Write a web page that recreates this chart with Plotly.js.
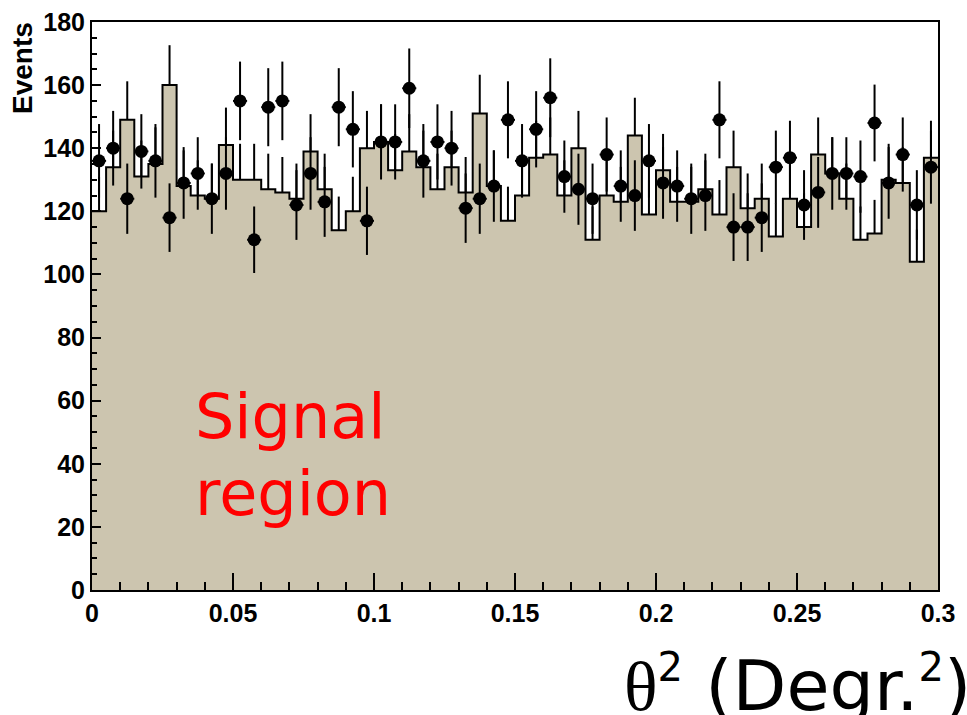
<!DOCTYPE html>
<html><head><meta charset="utf-8">
<script src="https://cdn.plot.ly/plotly-3.0.1.min.js"></script>
<style>html,body{margin:0;padding:0;background:#fff}#chart{width:967px;height:715px}</style>
</head><body><div id="chart"></div>
<script>
// Histogram binning (theta^2, degrees^2)
const binStart = 0;
const binWidth = 0.005;

// Filled histogram (expected / background) counts per bin
const histCounts = [120,134,149,131,135,160,128,125,124,141,
                    130,130,127,126,124,139,127,114,120,140,
                    142,133,139,134,127,134,126,151,128,117,
                    125,137,138,125,140,111,125,123,144,119,
                    133,123,123,127,119,134,121,124,112,124,
                    115,138,132,124,111,113,130,129,104,137];

// Measured events (black points) per bin
const dataCounts = [136,140,124,139,136,118,129,132,124,132,
                    155,111,153,155,122,132,123,153,146,117,
                    142,142,159,136,142,140,121,124,128,149,
                    136,146,156,131,127,124,138,128,125,136,
                    129,128,124,125,149,115,115,118,134,137,
                    122,126,132,132,131,148,129,138,122,134];

const xTickVals = [0,0.05,0.1,0.15,0.2,0.25,0.3];
const xTickText = ['0','0.05','0.1','0.15','0.2','0.25','0.3'];
const yTickVals = [0,20,40,60,80,100,120,140,160,180];
const yTickText = ['0','20','40','60','80','100','120','140','160','180'];

const nBins = histCounts.length;
const centers = histCounts.map((_, i) => binStart + (i + 0.5) * binWidth);
const edges = histCounts.map((_, i) => binStart + i * binWidth).concat([binStart + nBins * binWidth]);
const stepY = histCounts.concat([histCounts[nBins - 1]]);

const tan = 'rgb(204,197,175)';
const tickFont = {family: 'Liberation Sans, Arial, sans-serif', size: 25, color: '#000', weight: 'bold'};

const traces = [
  { // histogram error bars (lower part hidden by the fill)
    type: 'scatter', mode: 'markers', x: centers, y: histCounts,
    marker: {color: 'rgba(0,0,0,0)', size: 1},
    error_y: {type: 'sqrt', visible: true, color: '#000', thickness: 2, width: 0},
    hoverinfo: 'skip', showlegend: false
  },
  { // filled histogram
    type: 'scatter', mode: 'lines', x: edges, y: stepY,
    line: {shape: 'hv', color: '#000', width: 2},
    fill: 'tozeroy', fillcolor: tan,
    hoverinfo: 'skip', showlegend: false
  },
  { // data points
    type: 'scatter', mode: 'markers', x: centers, y: dataCounts,
    marker: {color: '#000', size: 13},
    error_y: {type: 'sqrt', visible: true, color: '#000', thickness: 2, width: 0},
    error_x: {type: 'constant', value: binWidth / 2, visible: true, color: '#000', thickness: 2, width: 0},
    showlegend: false
  }
];

const layout = {
  width: 967, height: 715,
  margin: {l: 92, r: 29, t: 22, b: 125},
  paper_bgcolor: '#fff', plot_bgcolor: '#fff',
  showlegend: false,
  xaxis: {
    range: [0, 0.3], tickmode: 'array', tickvals: xTickVals, ticktext: xTickText,
    ticks: 'inside', ticklen: 17, tickwidth: 2, tickcolor: '#000',
    minor: {dtick: 0.01, tick0: 0, ticks: 'inside', ticklen: 8, tickwidth: 2, tickcolor: '#000', showgrid: false},
    showgrid: false, zeroline: false, showline: true, linecolor: '#000', linewidth: 2, mirror: true,
    tickfont: tickFont
  },
  yaxis: {
    range: [0, 180], tickmode: 'array', tickvals: yTickVals, ticktext: yTickText,
    ticks: 'inside', ticklen: 9, tickwidth: 2, tickcolor: '#000',
    minor: {dtick: 5, tick0: 0, ticks: 'inside', ticklen: 5, tickwidth: 2, tickcolor: '#000', showgrid: false},
    showgrid: false, zeroline: false, showline: true, linecolor: '#000', linewidth: 2, mirror: true,
    tickfont: tickFont
  },
  annotations: [
    {text: 'Events', textangle: -90, xref: 'paper', yref: 'paper', x: -0.0827, y: 1.0035,
     xanchor: 'center', yanchor: 'top', showarrow: false,
     font: {family: 'Liberation Sans, Arial, sans-serif', size: 28, color: '#000', weight: 'bold'}},
    {text: 'Signal', xref: 'paper', yref: 'paper', x: 0.1194, y: 0.306, xanchor: 'left', yanchor: 'middle',
     showarrow: false, font: {family: 'DejaVu Sans, sans-serif', size: 62, color: '#ff0000'}},
    {text: 'region', xref: 'paper', yref: 'paper', x: 0.1194, y: 0.170, xanchor: 'left', yanchor: 'middle',
     showarrow: false, font: {family: 'DejaVu Sans, sans-serif', size: 62, color: '#ff0000'}},
    {text: '<span style="font-family:Liberation Serif">θ</span><sup><span style="font-size:40px">2</span></sup> (Degr.<sup><span style="font-size:40px">2</span></sup>)',
     xref: 'paper', yref: 'paper', x: (622 - 92) / 846, y: (590 - 685) / 568, xanchor: 'left', yanchor: 'middle',
     showarrow: false, font: {family: 'DejaVu Sans, sans-serif', size: 70, color: '#000'}}
  ]
};

Plotly.newPlot('chart', traces, layout, {staticPlot: true, displayModeBar: false});
</script>
</body></html>
